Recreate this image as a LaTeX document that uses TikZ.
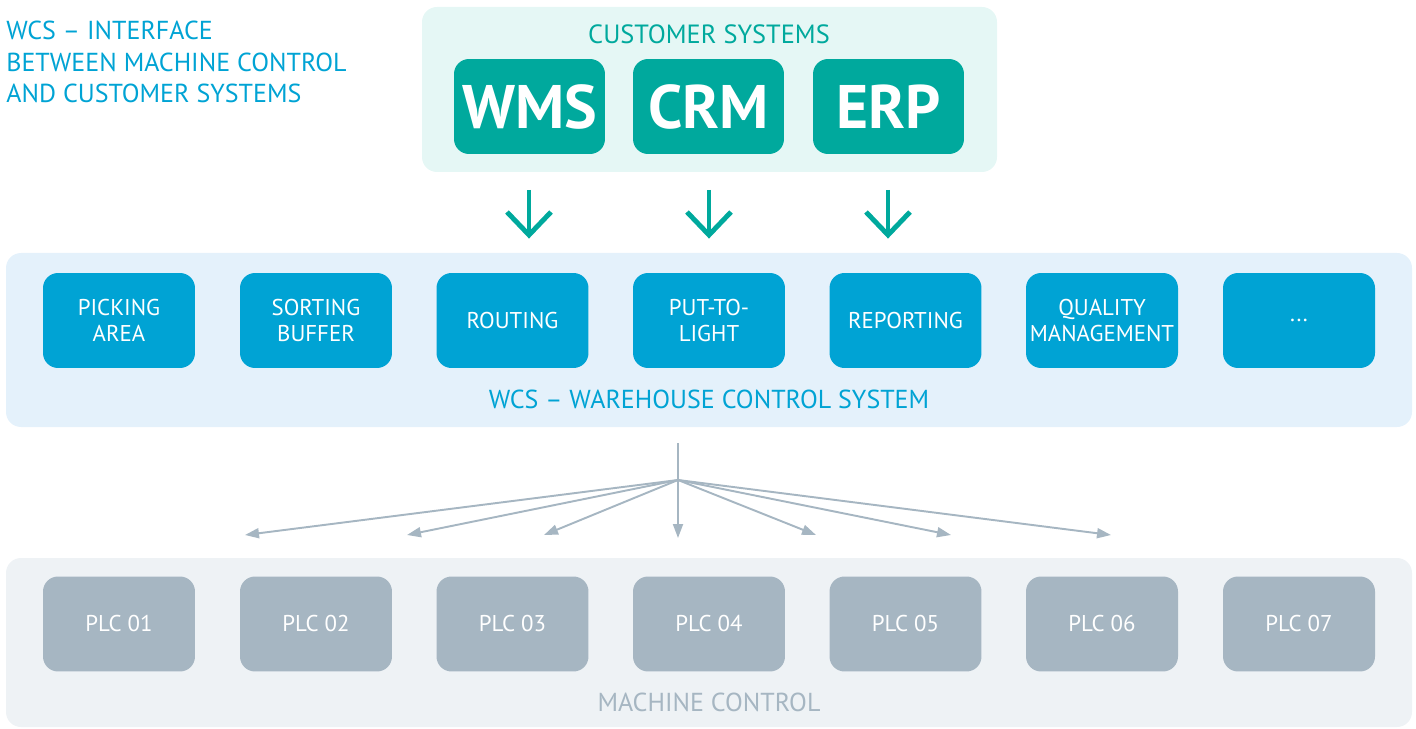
\documentclass[tikz,border=0pt]{standalone}
\usepackage{fontspec}
\setmainfont{PT Sans}
\usetikzlibrary{arrows.meta,positioning}
\definecolor{custteal}{RGB}{0,169,157}
\definecolor{custbg}{RGB}{229,247,245}
\definecolor{wcsblue}{RGB}{0,163,212}
\definecolor{wcsbg}{RGB}{228,241,251}
\definecolor{plcgrey}{RGB}{166,182,194}
\definecolor{plcbg}{RGB}{238,242,245}
\tikzset{
  custbox/.style={fill=custteal,rounded corners=0.3cm,minimum width=3.02cm,minimum height=1.9cm,text=white,font=\fontsize{35}{40}\selectfont\bfseries},
  wcsbox/.style={fill=wcsblue,rounded corners=0.3cm,minimum width=3.04cm,minimum height=1.9cm,inner sep=1pt,text=white,align=center,font=\fontsize{13}{14.9}\selectfont},
  plcbox/.style={fill=plcgrey,rounded corners=0.3cm,minimum width=3.04cm,minimum height=1.9cm,inner sep=1pt,text=white,font=\fontsize{13}{14.9}\selectfont},
  downarrow/.style={custteal,line width=2.8pt},
  fanarrow/.style={plcgrey,line width=1.1pt,-{Triangle[length=0.28cm,width=0.2cm]}}
}
\begin{document}
\begin{tikzpicture}[x=0.02cm,y=-0.02cm]
\useasboundingbox (0,0) rectangle (1416,729);
% panels
\fill[custbg,rounded corners=0.3cm] (422,7) rectangle (997,172);
\fill[wcsbg,rounded corners=0.3cm] (6,253) rectangle (1412,427);
\fill[plcbg,rounded corners=0.3cm] (6,558) rectangle (1412,727);
% title
\node[anchor=west,align=left,text=wcsblue,font=\fontsize{14.8}{18.1}\selectfont,inner sep=0pt] (title) at (6,62) {WCS – INTERFACE\\BETWEEN MACHINE CONTROL\\AND CUSTOMER SYSTEMS};
% customer systems
\node[text=custteal,font=\fontsize{15}{18}\selectfont] (cust) at (709,34) {CUSTOMER SYSTEMS};
\node[custbox] (wms) at (529.5,106.5) {WMS};
\node[custbox] (crm) at (708.5,106.5) {CRM};
\node[custbox] (erp) at (888.5,106.5) {ERP};
% arrows into wcs
\coordinate (a1) at (529,190);
\coordinate (a2) at (709,190);
\coordinate (a3) at (888,190);
\draw[downarrow] (a1) -- ++(0,43);
\draw[downarrow] (a1) ++(-22,22) -- ++(22,23) -- ++(22,-23);
\draw[downarrow] (a2) -- ++(0,43);
\draw[downarrow] (a2) ++(-22,22) -- ++(22,23) -- ++(22,-23);
\draw[downarrow] (a3) -- ++(0,43);
\draw[downarrow] (a3) ++(-22,22) -- ++(22,23) -- ++(22,-23);
% wcs
\node[wcsbox] (pick) at (119,320.5) {PICKING\\AREA};
\node[wcsbox] (sort) at (316,320.5) {SORTING\\BUFFER};
\node[wcsbox] (rout) at (512.5,320.5) {ROUTING};
\node[wcsbox] (ptl) at (709,320.5) {PUT-TO-\\LIGHT};
\node[wcsbox] (rep) at (905.5,320.5) {REPORTING};
\node[wcsbox] (qm) at (1102,320.5) {QUALITY\\MANAGEMENT};
\node[wcsbox] (more) at (1299,320.5) {...};
\node[text=wcsblue,font=\fontsize{14.8}{18}\selectfont] (wcs) at (709,399) {WCS – WAREHOUSE CONTROL SYSTEM};
% fan out to the plcs
\coordinate (top) at (678,443);
\coordinate (hub) at (678,480);
\coordinate (e1) at (245,535);
\coordinate (e2) at (407,535);
\coordinate (e3) at (544,535);
\coordinate (e4) at (678,538);
\coordinate (e5) at (816,535);
\coordinate (e6) at (951,535);
\coordinate (e7) at (1111,535);
\draw[plcgrey,line width=1.1pt] (top) -- (hub);
\draw[fanarrow] (hub) -- (e1);
\draw[fanarrow] (hub) -- (e2);
\draw[fanarrow] (hub) -- (e3);
\draw[fanarrow] (hub) -- (e4);
\draw[fanarrow] (hub) -- (e5);
\draw[fanarrow] (hub) -- (e6);
\draw[fanarrow] (hub) -- (e7);
% machine control
\node[plcbox] (plc1) at (119,624) {PLC 01};
\node[plcbox] (plc2) at (316,624) {PLC 02};
\node[plcbox] (plc3) at (512.5,624) {PLC 03};
\node[plcbox] (plc4) at (709,624) {PLC 04};
\node[plcbox] (plc5) at (905.5,624) {PLC 05};
\node[plcbox] (plc6) at (1102,624) {PLC 06};
\node[plcbox] (plc7) at (1299,624) {PLC 07};
\node[text=plcgrey,font=\fontsize{14.8}{18}\selectfont] (mc) at (709,702) {MACHINE CONTROL};
\end{tikzpicture}
\end{document}
